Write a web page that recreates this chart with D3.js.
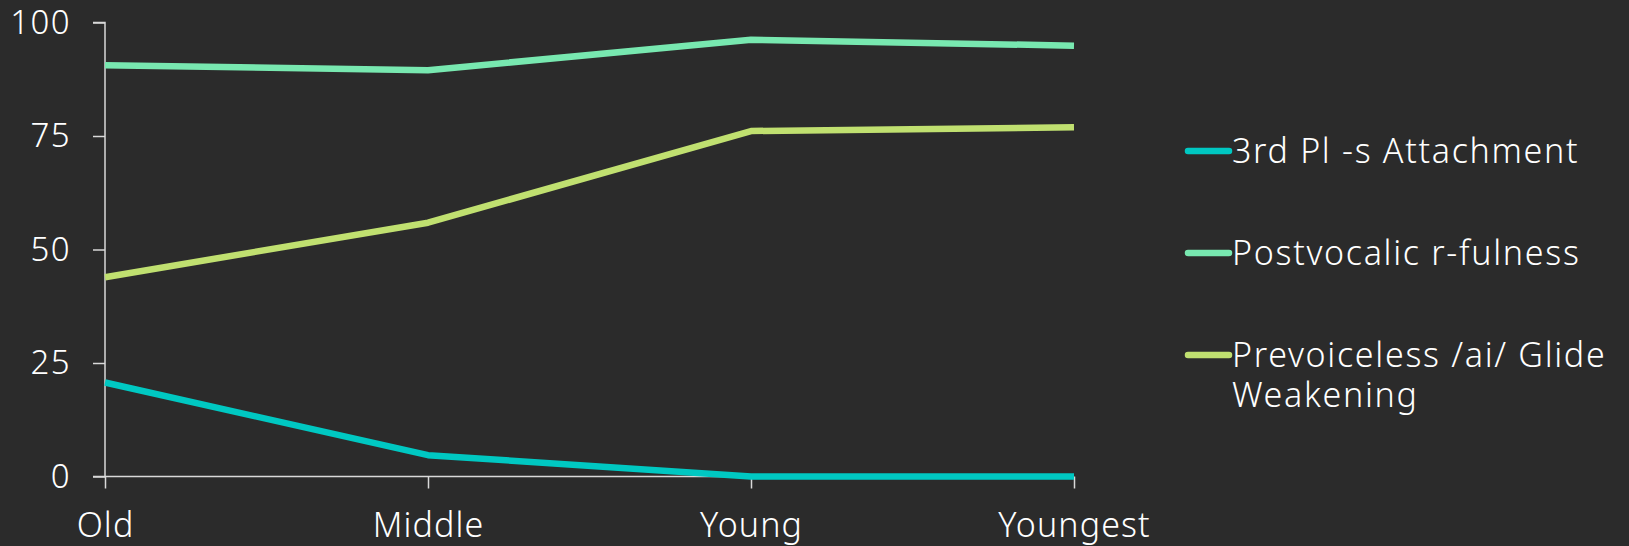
<!DOCTYPE html>
<html><head><meta charset="utf-8">
<script src="https://cdn.jsdelivr.net/npm/d3@7"></script>
<style>
html,body{margin:0;padding:0;background:#2b2b2b;}
svg{display:block;}
text{font-family:"Noto Sans",sans-serif;fill:#ffffff;font-weight:300;letter-spacing:1.1px;}
</style></head><body>
<svg id="chart" width="1629" height="546"></svg>
<script>
const categories = ["Old","Middle","Young","Youngest"];
const seriesNames = ["3rd Pl -s Attachment","Postvocalic r-fulness","Prevoiceless /ai/ Glide Weakening"];
const legendLines = [["3rd Pl -s Attachment"],["Postvocalic r-fulness"],["Prevoiceless /ai/ Glide","Weakening"]];
const thirdPl = [20.7, 4.7, 0, 0];
const postvocalic = [90.6, 89.5, 96.2, 94.9];
const prevoiceless = [43.9, 55.9, 76.1, 76.9];
const yTicks = [0,25,50,75,100];
const colors = ["#00c8c2","#78e8b0","#c0e070"];

const series = [thirdPl, postvocalic, prevoiceless];
const svg = d3.select("#chart");
const x = d3.scalePoint().domain(categories).range([105,1074]);
const y = d3.scaleLinear().domain([0,100]).range([476.5,22.5]);

const yAxis = svg.append("g").attr("transform","translate(105,0)")
  .call(d3.axisLeft(y).tickValues(yTicks).tickSize(12).tickPadding(22));
const xAxis = svg.append("g").attr("transform","translate(0,476.5)")
  .call(d3.axisBottom(x).tickSize(12).tickPadding(20));
[yAxis,xAxis].forEach(a=>{
  a.selectAll("path,line").attr("stroke","#d9d9d9").attr("stroke-width",1.5);
  a.selectAll("text").style("font-family","\"Noto Sans\",sans-serif").attr("fill","#ffffff").style("font-size","34px");
});
yAxis.selectAll("text").style("font-size","33px").style("letter-spacing","1.4px");
yAxis.select(".domain").attr("d","M-12,22.5H0V476.5");
xAxis.select(".domain").attr("d","M93,0H1074");
xAxis.selectAll("text").attr("y",60).attr("dy","0");

const line = d3.line().x((d,i)=>x(categories[i])).y(d=>y(d));
series.forEach((s,k)=>{
  svg.append("path").datum(s).attr("d",line)
    .attr("fill","none").attr("stroke",colors[k]).attr("stroke-width",6.5)
    .attr("stroke-linejoin","round");
});

const legY = [151,253,355];
const leg = svg.append("g");
legendLines.forEach((lines,k)=>{
  leg.append("line").attr("x1",1188).attr("x2",1229).attr("y1",legY[k]).attr("y2",legY[k])
    .attr("stroke",colors[k]).attr("stroke-width",6.5).attr("stroke-linecap","round");
  const t = leg.append("text").attr("x",1232).attr("y",legY[k]).style("font-size","34px").style("letter-spacing","1.7px");
  lines.forEach((l,j)=>{
    t.append("tspan").attr("x",1232).attr("dy", j===0 ? "0.35em" : "1.17em").text(l);
  });
});
</script>
</body></html>
